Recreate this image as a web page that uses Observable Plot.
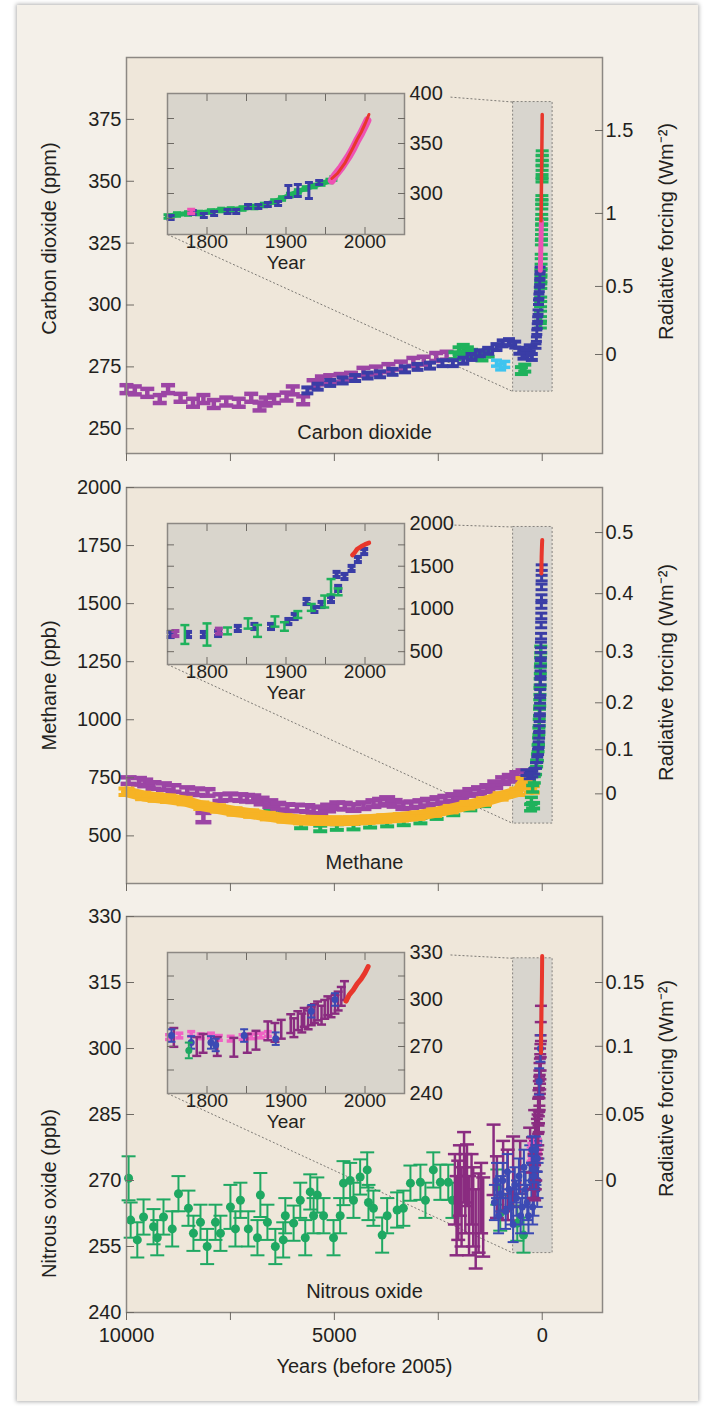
<!DOCTYPE html>
<html><head><meta charset="utf-8">
<script src="https://cdn.jsdelivr.net/npm/d3@7"></script>
<script src="https://cdn.jsdelivr.net/npm/@observablehq/plot@0.6"></script>
<style>
body{margin:0;background:#fff;}
#page{position:relative;width:709px;height:1406px;overflow:hidden;}
#frame{position:absolute;left:17px;top:5px;width:681px;height:1396px;background:#f4f0e9;box-shadow:0 0 4px 1px rgba(0,0,0,0.3);}
</style></head><body><div id="page"><div id="frame"></div></div>
<script>
// ---------- tick labels / axes ----------
const YEAR_TICKS = [10000, 7500, 5000, 2500, 0];
const YEAR_LABELS = [10000, 5000, 0];
const co2Ticks = [250, 275, 300, 325, 350, 375];
const co2RfAt = [280, 307.5, 337, 370.5];
const co2RfLabels = ["0", "0.5", "1", "1.5"];
const ch4Ticks = [500, 750, 1000, 1250, 1500, 1750, 2000];
const ch4RfAt = [681, 871, 1073, 1293, 1543, 1806];
const ch4RfLabels = ["0", "0.1", "0.2", "0.3", "0.4", "0.5"];
const n2oTicks = [240, 255, 270, 285, 300, 315, 330];
const n2oRfAt = [270, 285, 300.5, 315];
const n2oRfLabels = ["0", "0.05", "0.1", "0.15"];
const INSET_YEAR_TICKS = [1800, 1850, 1900, 1950, 2000];
const INSET_YEAR_LABELS = [1800, 1900, 2000];
const co2InsetTicks = [275, 300, 325, 350, 375];
const co2InsetLabels = [300, 350, 400];
const ch4InsetTicks = [500, 750, 1000, 1250, 1500, 1750];
const ch4InsetLabels = [500, 1000, 1500, 2000];
const n2oInsetTicks = [255, 270, 285, 300, 315];
const n2oInsetLabels = [240, 270, 300, 330];

// ---------- CO2 (years before 2005, ppm) ----------
const co2Purple = [[10000,266],[9800,265.5],[9500,264.5],[9200,262],[9000,266],[8700,262.5],[8400,260.5],[8150,262],[7900,260],[7600,261],[7300,260.5],[7000,262.5],[6800,259],[6650,261],[6450,262],[6150,263],[6000,265.5],[5750,261.5],[5500,268],[5300,269.5],[5100,270],[4850,270.5],[4600,271],[4300,273],[4000,273.5],[3700,274.5],[3400,275.5],[3100,277],[2850,277.5],[2550,279],[2300,279.5]];
const co2Blue = [[5650,265.5],[5400,267],[5100,268.5],[4800,269.5],[4500,270.5],[4200,271.5],[3900,272],[3600,273],[3300,274],[3000,275],[2700,275.5],[2400,276.5],[2150,276.5],[1900,277.5],[1700,279],[1500,280.5],[1300,281.5],[1100,283],[950,284.5],[800,285],[650,284],[550,281.5],[450,279.5],[380,281],[300,282.5],[250,279]];
const co2Green = [[2100,279.5],[2000,281.5],[1900,282.5],[1800,281.5],[1700,280.5],[1600,280],[1450,279],[1300,280.5],[500,273.5],[420,274.5]];
const co2Cyan = [[1100,276.5],[1000,275],[900,276]];
const co2SpikeGreen = [[45,291.6],[42,294.4],[40,298.4],[37,302.3],[34,307.6],[31,310.3],[29,313.1],[27,315.6],[24,319.6],[20,325.2],[18,327.6],[15,331.3],[13,333.7],[12,335.7],[10,339.7],[9,341.7],[8,343.3],[5,350.6],[4,351.8],[3,355.3],[2,357.4],[1,359.4],[0,361.4]];
const co2SpikeBlue = [[150,283.4],[140,286.2],[130,289],[120,291.5],[110,294.3],[100,297.1],[90,301.1],[80,303.5],[70,306.3],[60,309.1],[55,311.6],[50,314.4]];
const co2SpikePink = [[45,314],[40,318],[35,322],[30,326],[25,330],[20,334]];
const co2SpikeRed = [[30,334],[25,339],[20,346],[15,354],[10,361],[5,369],[0,377]];
// CO2 inset (year, ppm[, error])
const co2InGreen = [[1750,277],[1762,279],[1776,280],[1790,280.5],[1805,282],[1818,283.5],[1830,284],[1845,285],[1860,286.5],[1872,288.5],[1885,292],[1895,295],[1905,298.5],[1915,302],[1925,305],[1935,307.5],[1945,310],[1955,312.5],[1960,315]];
const co2InBlue = [[1754,276],[1782,281],[1796,278],[1809,280],[1826,282],[1837,282],[1852,287],[1865,287],[1877,289],[1890,290],[1903,302,6],[1915,303,6],[1929,303,8],[1942,311]];
const co2InPinkOld = [[1780,282]];
const co2InPink = [[1958,313],[1962,318],[1966,322],[1970,326],[1975,332],[1980,338],[1985,345],[1990,353],[1995,360],[2000,368],[2003,373]];
const co2InRed = [[1958,315],[1965,320],[1970,325.5],[1975,331],[1980,338.5],[1985,346],[1990,354],[1995,361],[2000,369.5],[2005,379]];

// ---------- CH4 (years before 2005, ppb) ----------
const ch4Purple = [[9950,738],[9700,735],[9550,728],[9350,717],[9100,712],[8870,704],[8540,695],[8300,690],[8150,579,20],[8050,687],[7740,665],[7500,668],[7260,665],[7100,662],[6950,660],[6750,650],[6540,639],[6350,628],[6130,622],[5900,620],[5650,618],[5500,612],[5340,609],[5150,620],[4930,630],[4750,628],[4540,622],[4300,630],[4060,639],[3900,645],[3730,652],[3550,640],[3340,630],[3150,634],[2930,639],[2750,645],[2520,652],[2330,658],[2140,665],[1950,676],[1730,687],[1520,695],[1320,704],[1130,720],[940,738],[780,748],[600,760],[450,768]];
const ch4Orange = [[10000,690],[9600,672],[9300,665],[9000,660],[8600,650],[8200,630],[7800,618],[7400,605],[7000,596],[6600,585],[6200,575],[5800,568],[5400,566],[5000,565],[4600,566],[4200,570],[3800,575],[3400,580],[3000,587],[2600,600],[2200,615],[1800,632],[1400,648],[1000,670],[600,690],[450,735],[350,720],[250,700]];
const ch4Green = [[6540,622],[6200,590],[5800,545],[5340,532],[4940,538],[4540,540],[4140,548],[3730,553],[3330,558],[2930,566],[2540,585],[2140,601],[1730,622],[1400,640],[220,630]];
const ch4SpikeBlue = [[12,1655],[14,1610],[16,1572],[18,1526],[20,1492],[22,1447],[25,1408],[28,1360],[31,1322],[34,1278],[37,1243],[40,1198],[44,1162],[48,1118],[52,1083],[57,1038],[62,1004],[68,962],[75,933],[85,893],[100,862],[120,828],[150,803],[190,778],[240,766],[300,758],[380,772]];
const ch4SpikeGreen = [[35,1302],[40,1254],[45,1213],[50,1163],[55,1122],[60,1073],[66,1032],[72,988],[80,951],[90,908],[100,877],[115,838],[135,812],[160,778],[190,742],[230,703],[260,652],[280,622]];
// CH4 inset (year, ppb[, error])
const ch4InBlue = [[1754,701],[1776,701],[1796,701],[1814,713],[1839,772],[1860,795],[1881,795],[1903,853],[1911,912],[1926,1087],[1936,994],[1945,1052],[1957,1111],[1964,1404],[1966,1240],[1974,1380],[1983,1474],[1991,1579],[1999,1672]];
const ch4InGreen = [[1772,701,110],[1800,701,130],[1826,743,40],[1852,830,60],[1864,743,70],[1886,853,60],[1898,795,50],[1915,935,40],[1932,1018,40],[1949,1087,70],[1957,1260,90],[1966,1200,40]];
const ch4InPurple = [[1760,712],[1815,740]];
const ch4InRed = [[1984,1630],[1987,1660],[1990,1700],[1995,1730],[2000,1755],[2005,1774]];

// ---------- N2O (years before 2005, ppb, error) ----------
const n2oGreen = [[9950,270.5,5],[9900,261,4],[9740,256.5,4],[9590,261.7,4],[9350,259.5,4],[9260,257,4],[9110,261.7,4],[8900,259,4],[8750,267,4],[8510,263.7,4],[8390,258,4],[8220,260.5,4],[8060,255,4],[7860,260.5,4],[7740,258,4],[7500,264,5],[7380,259,4],[7260,265.5,4],[7070,259,4],[6850,257,4],[6780,266.7,5],[6610,260.5,4],[6420,255,4],[6230,256.5,4],[6180,262,4],[5980,260.3,4],[5820,265.5,4],[5700,257,4],[5580,267.4,4],[5500,262,4],[5410,266.7,4],[5260,262,4],[5020,257,4],[4860,262,4],[4780,269.4,5],[4620,270,4],[4540,265.5,4],[4380,270.8,4],[4210,272.4,4],[4180,265,4],[4060,263.7,4],[3850,257.6,4],[3730,262,4],[3490,263.3,4],[3340,263.7,4],[3170,269.4,4],[2930,269.6,4],[2810,265.5,4],[2620,272.4,4],[2450,269.6,4],[2260,269.6,4],[2160,265.5,4],[1080,268.5,4],[1010,262.6,4],[600,260.3,4],[450,257.6,4]];
const n2oPurple = [[2100,268,8],[2060,262,9],[2020,265.5,9],[1980,270,8],[1940,264,9],[1880,273,8],[1850,267,9],[1810,271.2,7],[1760,262,9],[1700,268,8],[1660,264,9],[1600,259,9],[1530,262.6,9],[1470,266,8],[1420,261.7,9],[1170,274.7,8],[1090,268.5,7],[940,271,8],[830,269,8],[700,272,8],[530,273,6],[290,275,7],[170,279,7]];
const n2oBlue = [[1150,265],[1100,270],[1050,262],[1000,267],[950,270],[880,263],[840,272],[800,268],[750,264],[700,260],[660,269],[620,266],[560,271],[520,262],[480,264],[440,273],[400,268],[360,265],[330,262],[300,274],[260,270],[230,264],[200,266],[170,276],[150,273],[120,268],[100,270],[80,279]];
// N2O inset (year, ppb)
const n2oInPink = [[1752,276],[1765,277],[1780,278],[1792,276.5],[1805,277],[1815,275.5],[1830,275],[1845,276],[1856,276.5],[1868,277],[1877,278]];
const n2oInPurple = [[1758,275.8],[1787,270],[1795,272],[1813,270],[1834,269.5],[1851,272],[1862,274],[1877,280],[1886,279],[1894,281],[1906,284.6],[1910,282],[1915,286.5],[1920,285],[1923,288.6],[1928,287],[1932,289.6],[1936,291],[1940,292.7],[1945,290],[1949,293.7],[1953,296],[1957,294.7],[1962,297],[1966,299],[1970,302],[1974,305.7]];
const n2oInBlue = [[1755,277],[1780,272.6],[1805,272.6],[1811,271],[1847,277],[1887,275],[1932,292.5],[1962,300]];
const n2oInGreen = [[1777,267.5]];
const n2oInRed = [[1976,299],[1980,303],[1985,306],[1990,310],[1995,313],[2000,317],[2004,321]];

// zoom boxes (years before 2005, value)
const co2Box = {bp: [700, -250], v: [265, 382]};
const ch4Box = {bp: [700, -250], v: [553, 1830]};
const n2oBox = {bp: [700, -250], v: [253.5, 320.5]};

// ---------- styling ----------
const X_DOMAIN = [10000, -1450];
const INSET_X = [1750, 2050];
const FONT = '"Liberation Sans", Arial, Helvetica, sans-serif';
const INK = "#231f20", TICK = "#6e6a64", EDGE = "#8c8883";
const PANEL_FILL = "#efe7da", INSET_FILL = "#d9d5cc", BOX_FILL = "#d8d5ce";
const C = {purple:"#9c45a5", blue:"#3a3da6", green:"#1fb25c", cyan:"#3fc4ef", red:"#e8372c", pink:"#ee52b4", orange:"#f6b325",
  n2oGreen:"#1fa862", n2oPurple:"#8a2c80", n2oBlue:"#3c4ab4", n2oPink:"#f062c4"};
const STYLE = {fontFamily: FONT, fontSize: "20px", color: INK, background: "transparent", overflow: "visible"};
const RF_TITLE = "Radiative forcing (Wm\u207B\u00B2)";
const fmt = d => String(d);
const toBP = d => 2005 - d[0];

const capSym = {draw(ctx, size) { const r = Math.sqrt(size / Math.PI); ctx.moveTo(-r, 0); ctx.lineTo(r, 0); }};

function ibar(data, {x = d => d[0], color, err = 0, cap = 5, sw = 2, dot = 0, fixed = false}) {
  const e = d => (fixed || d[2] == null) ? err : d[2];
  const lo = d => d[1] - e(d), hi = d => d[1] + e(d);
  const out = [
    Plot.ruleX(data, {x, y1: lo, y2: hi, stroke: color, strokeWidth: sw}),
    Plot.dot(data, {x, y: lo, symbol: capSym, r: cap, stroke: color, strokeWidth: sw, fill: "none"}),
    Plot.dot(data, {x, y: hi, symbol: capSym, r: cap, stroke: color, strokeWidth: sw, fill: "none"})
  ];
  if (dot) out.push(Plot.dot(data, {x, y: d => d[1], r: dot, fill: color, stroke: "none"}));
  return out;
}
function band(data, {x = d => d[0], color, sw}) {
  return Plot.line(data, {x, y: d => d[1], stroke: color, strokeWidth: sw, strokeLinecap: "round", strokeLinejoin: "round"});
}

const page = document.getElementById("page");
function place(svg, left, top) {
  svg.style.position = "absolute"; svg.style.left = left + "px"; svg.style.top = top + "px";
  page.appendChild(svg);
}

function mainPanel({top, yDomain, leftTicks, rfAt, rfLabels, title, titleDy, rfDy, label, marks, box, insetTop, bottom}) {
  const mt = 40, H = 396, ml = 126, mr = 107, W = 709;
  const mb = bottom ? 1406 - (top + H) : 30;
  const sx = Plot.scale({x: {domain: X_DOMAIN, range: [ml, W - mr]}});
  const sy = Plot.scale({y: {domain: yDomain, range: [mt + H, mt]}});
  const iTop = insetTop - (top - mt), iBot = iTop + 141;
  const bx = sx.apply(box.bp[0]), byTop = sy.apply(box.v[1]);
  const sX = 404 + 46, sY = iTop + (byTop - iTop) * (46 / (bx - 404));
  const links = [
    {x1: sx.invert(sX), y1: sy.invert(sY), x2: box.bp[0], y2: box.v[1]},
    {x1: sx.invert(167), y1: sy.invert(iBot), x2: box.bp[0], y2: box.v[0]}
  ];
  const rfMap = new Map(rfAt.map((v, i) => [v, rfLabels[i]]));
  const m = [
    Plot.frame({fill: PANEL_FILL, stroke: "none"}),
    Plot.rect([box], {x1: d => d.bp[0], x2: d => d.bp[1], y1: d => d.v[0], y2: d => d.v[1], fill: BOX_FILL, stroke: "#86837e", strokeWidth: 1, strokeDasharray: "2,2"}),
    Plot.link(links, {x1: "x1", y1: "y1", x2: "x2", y2: "y2", stroke: "#7d7a75", strokeWidth: 1, strokeDasharray: "2,2"}),
    ...marks,
    Plot.frame({stroke: EDGE, strokeWidth: 1.5, fill: "none"}),
    Plot.axisY({anchor: "left", ticks: leftTicks, tickSize: 8, dx: 8, tickFormat: () => "", stroke: TICK, label: null}),
    Plot.axisY({anchor: "left", ticks: leftTicks, tickSize: 0, tickPadding: 5, tickFormat: fmt, label: null}),
    Plot.axisY({anchor: "right", ticks: rfAt, tickSize: 8, dx: -8, tickFormat: () => "", stroke: TICK, label: null}),
    Plot.axisY({anchor: "right", ticks: rfAt, tickSize: 0, tickPadding: 3, tickFormat: d => rfMap.get(d), label: null}),
    Plot.axisX({anchor: "bottom", ticks: YEAR_TICKS, tickSize: 8, tickFormat: () => "", stroke: TICK, label: null}),
    Plot.text([title], {text: d => d, frameAnchor: "left", textAnchor: "middle", rotate: -90, dx: -77, dy: titleDy}),
    Plot.text([RF_TITLE], {text: d => d, frameAnchor: "right", textAnchor: "middle", rotate: -90, dx: 64, dy: rfDy}),
    Plot.text([label], {text: d => d, frameAnchor: "bottom", dy: -15})
  ];
  if (bottom) {
    m.push(Plot.axisX({anchor: "bottom", ticks: YEAR_LABELS, tickSize: 0, tickPadding: 15, tickFormat: fmt, label: null}));
    m.push(Plot.text(["Years (before 2005)"], {text: d => d, frameAnchor: "bottom", dy: 60}));
  }
  const svg = Plot.plot({width: W, height: mt + H + mb, marginLeft: ml, marginRight: mr, marginTop: mt, marginBottom: mb,
    x: {domain: X_DOMAIN, axis: null}, y: {domain: yDomain, axis: null}, style: STYLE, marks: m});
  place(svg, 0, top - mt);
}

function insetPanel({top, yDomain, yTicks, yLabels, marks}) {
  const ml = 4, mr = 56, mt = 14, mb = 50, W = 237, H = 141;
  const svg = Plot.plot({width: W + ml + mr, height: H + mt + mb, marginLeft: ml, marginRight: mr, marginTop: mt, marginBottom: mb,
    x: {domain: INSET_X, axis: null}, y: {domain: yDomain, axis: null}, style: STYLE,
    marks: [
      Plot.frame({fill: INSET_FILL, stroke: "none"}),
      ...marks,
      Plot.frame({stroke: EDGE, strokeWidth: 1.5, fill: "none"}),
      Plot.axisX({anchor: "top", ticks: INSET_YEAR_TICKS, tickSize: 7, dy: 7, tickFormat: () => "", stroke: TICK, label: null}),
      Plot.axisX({anchor: "bottom", ticks: INSET_YEAR_TICKS, tickSize: 7, dy: -7, tickFormat: () => "", stroke: TICK, label: null}),
      Plot.axisY({anchor: "left", ticks: yTicks, tickSize: 7, dx: 7, tickFormat: () => "", stroke: TICK, label: null}),
      Plot.axisY({anchor: "right", ticks: yTicks, tickSize: 7, dx: -7, tickFormat: () => "", stroke: TICK, label: null}),
      Plot.axisX({anchor: "bottom", ticks: INSET_YEAR_LABELS, tickSize: 0, tickPadding: 0, tickFormat: fmt, label: null, fontSize: 19}),
      Plot.axisY({anchor: "right", ticks: yLabels, tickSize: 0, tickPadding: 5, tickFormat: fmt, label: null}),
      Plot.text(["Year"], {text: d => d, frameAnchor: "bottom", dy: 34, fontSize: 19})
    ]});
  place(svg, 167 - ml, top - mt);
}

// ---------- Carbon dioxide ----------
mainPanel({top: 57, yDomain: [240, 400], leftTicks: co2Ticks, rfAt: co2RfAt, rfLabels: co2RfLabels,
  title: "Carbon dioxide (ppm)", titleDy: -17, rfDy: -24, label: "Carbon dioxide", box: co2Box, insetTop: 93,
  marks: [
    ...ibar(co2Purple, {color: C.purple, err: 1.6, cap: 7, sw: 4.5}),
    ...ibar(co2Green, {color: C.green, err: 1.4, cap: 6.5, sw: 4}),
    ...ibar(co2Cyan, {color: C.cyan, err: 1.2, cap: 5.5, sw: 3.5}),
    ...ibar(co2Blue, {color: C.blue, err: 1.2, cap: 6, sw: 4}),
    ...ibar(co2SpikeGreen, {color: C.green, err: 0.9, cap: 6.5, sw: 3}),
    ...ibar(co2SpikeBlue, {color: C.blue, err: 0.9, cap: 5.5, sw: 3}),
    band(co2SpikePink, {color: C.pink, sw: 5}),
    band(co2SpikeRed, {color: C.red, sw: 3.5})
  ]});
insetPanel({top: 93, yDomain: [259, 400], yTicks: co2InsetTicks, yLabels: co2InsetLabels, marks: [
  band(co2InGreen, {color: C.green, sw: 5}),
  ...ibar(co2InGreen, {color: C.green, err: 1.8, cap: 4, sw: 3}),
  ...ibar(co2InBlue, {color: C.blue, err: 2, cap: 4, sw: 3}),
  ...ibar(co2InPinkOld, {color: C.pink, err: 2, cap: 4, sw: 3.5}),
  band(co2InPink, {color: C.pink, sw: 8}),
  band(co2InRed, {color: C.red, sw: 3})
]});

// ---------- Methane ----------
mainPanel({top: 487, yDomain: [295, 2000], leftTicks: ch4Ticks, rfAt: ch4RfAt, rfLabels: ch4RfLabels,
  title: "Methane (ppb)", titleDy: 0, rfDy: -13, label: "Methane", box: ch4Box, insetTop: 523,
  marks: [
    ...ibar(ch4Green, {color: C.green, err: 12, cap: 7, sw: 4}),
    ...ibar(ch4Purple, {color: C.purple, err: 14, cap: 8, sw: 4.5}),
    band(ch4Orange, {color: C.orange, sw: 11}),
    ...ibar(ch4Orange, {color: C.orange, err: 14, cap: 8, sw: 4}),
    ...ibar(ch4SpikeGreen, {color: C.green, err: 14, cap: 6.5, sw: 3.5}),
    ...ibar(ch4SpikeBlue, {color: C.blue, err: 12, cap: 6, sw: 3}),
    band(ch4InRed, {x: toBP, color: C.red, sw: 4})
  ]});
insetPanel({top: 523, yDomain: [350, 2000], yTicks: ch4InsetTicks, yLabels: ch4InsetLabels, marks: [
  ...ibar(ch4InBlue, {color: C.blue, err: 30, cap: 4, sw: 4}),
  ...ibar(ch4InPurple, {color: C.purple, err: 30, cap: 4, sw: 4}),
  ...ibar(ch4InGreen, {color: C.green, cap: 4.5, sw: 2.5}),
  band(ch4InRed, {color: C.red, sw: 4.5})
]});

// ---------- Nitrous oxide ----------
mainPanel({top: 916, yDomain: [240, 330], leftTicks: n2oTicks, rfAt: n2oRfAt, rfLabels: n2oRfLabels,
  title: "Nitrous oxide (ppb)", titleDy: 79, rfDy: -26, label: "Nitrous oxide", box: n2oBox, insetTop: 952, bottom: true,
  marks: [
    ...ibar(n2oGreen, {color: C.n2oGreen, cap: 7, sw: 2, dot: 4.5}),
    ...ibar(n2oPurple, {color: C.n2oPurple, cap: 7, sw: 2.5}),
    ...ibar(n2oBlue, {color: C.n2oBlue, err: 4, cap: 5.5, sw: 2, dot: 3.5}),
    ...ibar(n2oInPink, {x: toBP, color: C.n2oPink, err: 1.5, cap: 5, sw: 2.5}),
    ...ibar(n2oInPurple, {x: toBP, color: C.n2oPurple, err: 4, cap: 6, sw: 2.5, fixed: true}),
    ...ibar(n2oInBlue, {x: toBP, color: C.n2oBlue, err: 3, cap: 5, sw: 2, dot: 3.5}),
    band(n2oInRed, {x: toBP, color: C.red, sw: 4})
  ]});
insetPanel({top: 952, yDomain: [240, 330], yTicks: n2oInsetTicks, yLabels: n2oInsetLabels, marks: [
  ...ibar(n2oInPink, {color: C.n2oPink, err: 1.5, cap: 4, sw: 3.5}),
  ...ibar(n2oInPurple, {color: C.n2oPurple, err: 6, cap: 4.5, sw: 2.5}),
  ...ibar(n2oInBlue, {color: C.n2oBlue, err: 4, cap: 4, sw: 2, dot: 3.5}),
  ...ibar(n2oInGreen, {color: C.n2oGreen, err: 5, cap: 4, sw: 2, dot: 3.5}),
  band(n2oInRed, {color: C.red, sw: 5})
]});
</script></body></html>
